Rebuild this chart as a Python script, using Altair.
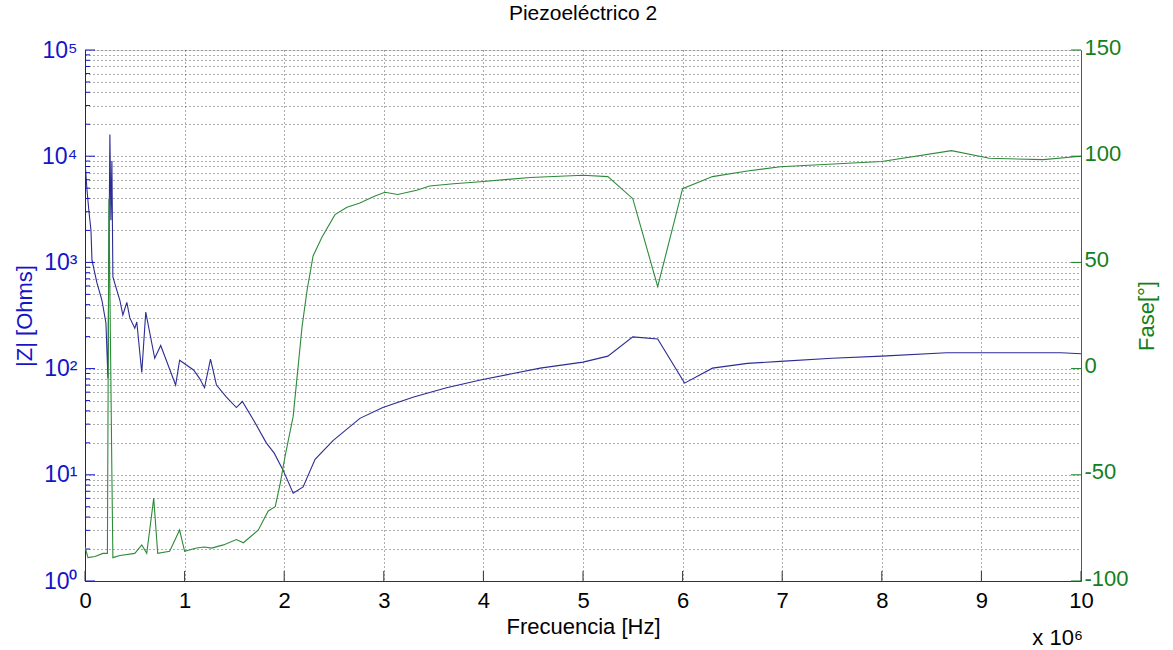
import altair as alt
import pandas as pd

# ---------------- data ----------------
z_freq_mhz = [0.00, 0.02, 0.04, 0.06, 0.07, 0.12, 0.17, 0.21, 0.22, 0.23, 0.25, 0.26, 0.27, 0.28,
              0.35, 0.38, 0.42, 0.45, 0.50, 0.52, 0.57, 0.61, 0.70, 0.76, 0.91, 0.95, 1.09, 1.15,
              1.20, 1.26, 1.32, 1.42, 1.52, 1.58, 1.69, 1.82, 1.90, 1.99, 2.09, 2.19, 2.31, 2.49,
              2.76, 2.99, 3.30, 3.63, 3.97, 4.57, 5.00, 5.25, 5.50, 5.75, 6.02, 6.30, 6.65, 6.98,
              7.50, 8.00, 8.65, 9.00, 9.80, 10.00]
z_ohms = [9000, 4800, 3000, 2000, 1050, 640, 440, 270, 150, 81, 16000, 2500, 9000, 730,
          440, 320, 420, 300, 240, 275, 92, 340, 125, 165, 70, 120, 97, 81,
          66, 123, 70, 54, 43, 49, 33, 20, 16, 11, 6.7, 7.7, 14, 21,
          34, 43, 54, 66, 78, 101, 115, 131, 199, 190, 73, 101, 112, 117,
          125, 131, 141, 141, 141, 138]

ph_freq_mhz = [0.00, 0.03, 0.10, 0.18, 0.225, 0.24, 0.27, 0.28, 0.35, 0.50, 0.57, 0.62, 0.69,
               0.73, 0.85, 0.95, 1.00, 1.12, 1.20, 1.27, 1.39, 1.52, 1.59, 1.74, 1.84, 1.91,
               1.96, 2.01, 2.09, 2.18, 2.23, 2.29, 2.38, 2.51, 2.63, 2.76, 2.90, 3.01, 3.14,
               3.33, 3.46, 3.70, 3.97, 4.47, 5.00, 5.25, 5.50, 5.75, 6.00, 6.30, 6.65, 6.98,
               8.00, 8.70, 9.08, 9.62, 10.00]
ph_deg = [-84, -89, -88.5, -87, -87, 80, -50, -89, -88, -87, -83, -87, -61,
          -87, -86, -76, -86, -84.5, -84, -84.5, -83, -80.5, -82, -76, -67, -65,
          -54, -41, -22.5, 20, 37, 53, 62, 72.5, 76, 78, 81, 83, 82,
          84, 86, 87, 88, 90, 91, 90.4, 80, 38.6, 84.7, 90.4, 93, 95,
          97.5, 102.6, 99, 98.4, 100]

x_ticks_mhz = [0, 1, 2, 3, 4, 5, 6, 7, 8, 9, 10]
z_major = [1, 10, 100, 1000, 10000, 100000]
z_minor = [m * 10 ** k for k in range(0, 5) for m in range(2, 10)]
phase_ticks = [-100, -50, 0, 50, 100, 150]
exp_label = ["x 10\u2076"]

# ---------------- style ----------------
W, H = 996, 531
FONT = "Liberation Sans"
BLUE_LINE = "#2c2c94"
BLUE_TEXT = "#1414c8"
GREEN_LINE = "#2e8b3a"
GREEN_TEXT = "#128020"
GRID = "#4a4a4a"

zdf = pd.DataFrame({"f": [v * 1e6 for v in z_freq_mhz], "z": z_ohms})
pdf = pd.DataFrame({"f": [v * 1e6 for v in ph_freq_mhz], "p": ph_deg})
xt_df = pd.DataFrame({"f": [v * 1e6 for v in x_ticks_mhz]})
zmaj_df = pd.DataFrame({"z": z_major})
zmin_df = pd.DataFrame({"z": z_minor})
ph_df = pd.DataFrame({"p": phase_ticks})
lbl_df = pd.DataFrame({"t": exp_label})

xscale = alt.Scale(domain=[0, 1e7], nice=False, zero=False)
zscale = alt.Scale(type="log", domain=[1, 1e5], nice=False)
pscale = alt.Scale(domain=[-100, 150], nice=False, zero=False)

x_axis = alt.Axis(
    values=[v * 1e6 for v in x_ticks_mhz],
    labelExpr="format(datum.value / 1e6, 'd')",
    labelFlush=False,
    title="Frecuencia [Hz]",
    grid=True, gridDash=[1, 3], gridColor=GRID, gridOpacity=0.9,
    ticks=False, domainColor="#333333", domainWidth=1,
    labelFont=FONT, labelFontSize=22, labelColor="black", labelPadding=9,
    titleFont=FONT, titleFontSize=22, titleFontWeight="normal", titleColor="black",
    titlePadding=5,
)
x_enc = alt.X("f:Q", scale=xscale, axis=x_axis)

z_label = ("abs(log(datum.value)/LN10 - round(log(datum.value)/LN10)) < 0.001 ? "
           "'10' + substring('\u2070\u00b9\u00b2\u00b3\u2074\u2075', round(log(datum.value)/LN10), "
           "round(log(datum.value)/LN10) + 1) : ''")
z_axis = alt.Axis(
    values=z_major + z_minor, labelExpr=z_label, labelOverlap=False, labelFlush=False,
    title="|Z| [Ohms]", grid=True, gridDash=[1, 3], gridColor=GRID, gridOpacity=0.9,
    ticks=False, domainColor=BLUE_TEXT, domainWidth=1,
    labelFont=FONT, labelFontSize=23, labelColor=BLUE_TEXT, labelPadding=8,
    titleFont=FONT, titleFontSize=22, titleFontWeight="normal", titleColor=BLUE_TEXT,
    titlePadding=5,
)
p_axis = alt.Axis(
    orient="right", values=phase_ticks, grid=False, ticks=False, labelFlush=False,
    labelExpr="'' + datum.value", labelOffset=-3,
    title="Fase[°]", titleAngle=270, titleBaseline="bottom",
    domainColor=GREEN_TEXT, domainWidth=1,
    labelFont=FONT, labelFontSize=22, labelColor=GREEN_TEXT, labelPadding=3,
    titleFont=FONT, titleFontSize=22, titleFontWeight="normal", titleColor=GREEN_TEXT,
    titlePadding=30,
)
z_enc = alt.Y("z:Q", scale=zscale, axis=z_axis)
p_enc = alt.Y("p:Q", scale=pscale, axis=p_axis)

z_line = alt.Chart(zdf).mark_line(color=BLUE_LINE, strokeWidth=1.1, clip=True).encode(
    x=x_enc, y=z_enc)
z_tick_maj = alt.Chart(zmaj_df).mark_rule(color=BLUE_TEXT).encode(
    x=alt.value(0), x2=alt.value(10), y=z_enc)
z_tick_min = alt.Chart(zmin_df).mark_rule(color=BLUE_TEXT).encode(
    x=alt.value(0), x2=alt.value(5), y=z_enc)
x_ticks = alt.Chart(xt_df).mark_rule(color="#333333").encode(
    x=x_enc, y=alt.value(H - 10), y2=alt.value(H))
exp_text = alt.Chart(lbl_df).mark_text(
    font=FONT, fontSize=22, color="black", align="right", baseline="middle").encode(
    text="t:N", x=alt.value(W + 2), y=alt.value(H + 57))

p_line = alt.Chart(pdf).mark_line(color=GREEN_LINE, strokeWidth=1.1, clip=True).encode(
    x=x_enc, y=p_enc)
p_ticks = alt.Chart(ph_df).mark_rule(color=GREEN_TEXT).encode(
    x=alt.value(W - 10), x2=alt.value(W), y=p_enc)

left = alt.layer(z_line, z_tick_maj, z_tick_min, x_ticks, exp_text)
right = alt.layer(p_line, p_ticks)

chart = alt.layer(left, right).resolve_scale(y="independent").properties(
    width=W, height=H,
    title=alt.TitleParams("Piezoeléctrico 2", font=FONT, fontSize=21, fontWeight="normal",
                          color="black", offset=12, anchor="middle"),
    padding={"left": 85, "top": 50, "right": 92, "bottom": 69},
    autosize=alt.AutoSizeParams(type="none"),
).configure_view(stroke="#555555", strokeWidth=1).configure(background="white")

chart.save("out.html", embed_options={"renderer": "svg", "actions": False})
